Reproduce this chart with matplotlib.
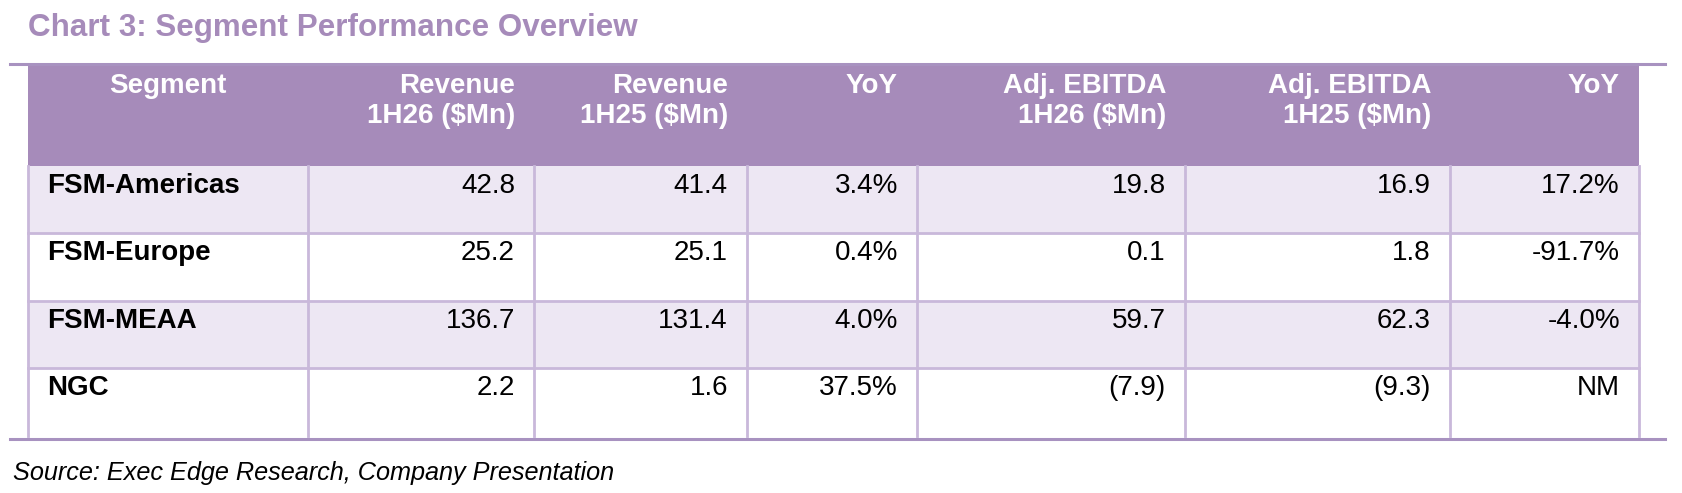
import matplotlib
matplotlib.use("Agg")
import matplotlib.pyplot as plt
from matplotlib.patches import Rectangle

plt.rcParams['font.family'] = ['Liberation Sans', 'DejaVu Sans']

# table data
segments = ['FSM-Americas', 'FSM-Europe', 'FSM-MEAA', 'NGC']
rev_1h26 = [42.8, 25.2, 136.7, 2.2]
rev_1h25 = [41.4, 25.1, 131.4, 1.6]
rev_yoy = [3.4, 0.4, 4.0, 37.5]
ebitda_1h26 = [19.8, 0.1, 59.7, -7.9]
ebitda_1h25 = [16.9, 1.8, 62.3, -9.3]
ebitda_yoy = [17.2, -91.7, -4.0, None]
headers = ['Segment', 'Revenue\n1H26 ($Mn)', 'Revenue\n1H25 ($Mn)', 'YoY',
           'Adj. EBITDA\n1H26 ($Mn)', 'Adj. EBITDA\n1H25 ($Mn)', 'YoY']

title = 'Chart 3: Segment Performance Overview'
source = 'Source: Exec Edge Research, Company Presentation'

PURPLE = '#a68bba'
RULE = '#a892c0'
GRID = '#c9b8da'
BAND = '#ede7f3'


def num(v):
    return f'({abs(v):.1f})' if v < 0 else f'{v:.1f}'


def pct(v):
    return 'NM' if v is None else f'{v:.1f}%'


rows = []
for i, s in enumerate(segments):
    rows.append([s, num(rev_1h26[i]), num(rev_1h25[i]), pct(rev_yoy[i]),
                 num(ebitda_1h26[i]), num(ebitda_1h25[i]), pct(ebitda_yoy[i])])

W, H = 1683, 493
fig = plt.figure(figsize=(W / 100, H / 100), dpi=100)
ax = fig.add_axes([0, 0, 1, 1])
ax.set_xlim(0, W)
ax.set_ylim(H, 0)
ax.axis('off')

# layout in pixels
col_x = [28, 308, 534, 747, 917, 1185, 1450, 1639]
row_y = [64, 166, 233, 301, 368, 436]
pad = 19

ax.text(28, 36, title, fontsize=22.6, fontweight='bold', color=PURPLE, va='baseline')

# header
ax.add_patch(Rectangle((col_x[0], row_y[0]), col_x[-1] - col_x[0], row_y[1] - row_y[0],
                       facecolor=PURPLE, edgecolor='none', zorder=1))
for j, h in enumerate(headers):
    if j == 0:
        x, ha = (col_x[0] + col_x[1]) / 2, 'center'
    else:
        x, ha = col_x[j + 1] - pad, 'right'
    for k, line in enumerate(h.split('\n')):
        ax.text(x, 93 + k * 30, line, fontsize=20, fontweight='bold', color='white',
                ha=ha, va='baseline', zorder=3)

# body rows
for i, r in enumerate(rows):
    top, bot = row_y[i + 1], row_y[i + 2]
    if i % 2 == 0:
        ax.add_patch(Rectangle((col_x[0], top), col_x[-1] - col_x[0], bot - top,
                               facecolor=BAND, edgecolor='none', zorder=1))
    for j, val in enumerate(r):
        if j == 0:
            ax.text(col_x[0] + pad, top + 27, val, fontsize=20, fontweight='bold',
                    ha='left', va='baseline', zorder=3)
        else:
            ax.text(col_x[j + 1] - pad, top + 27, val, fontsize=20,
                    ha='right', va='baseline', zorder=3)

# grid lines
for y in row_y[2:-1]:
    ax.plot([col_x[0], col_x[-1]], [y, y], color=GRID, lw=2, zorder=2)
for x in col_x:
    ax.plot([x, x], [row_y[1], row_y[-1]], color=GRID, lw=2, zorder=2)

# top and bottom rules
ax.plot([10, 1665], [row_y[0], row_y[0]], color=RULE, lw=2.2, zorder=2)
ax.plot([10, 1665], [438.5, 438.5], color=RULE, lw=2.2, zorder=2)

ax.text(13, 480, source, fontsize=18.2, fontstyle='italic', va='baseline')

fig.savefig('out.png', dpi=100)
